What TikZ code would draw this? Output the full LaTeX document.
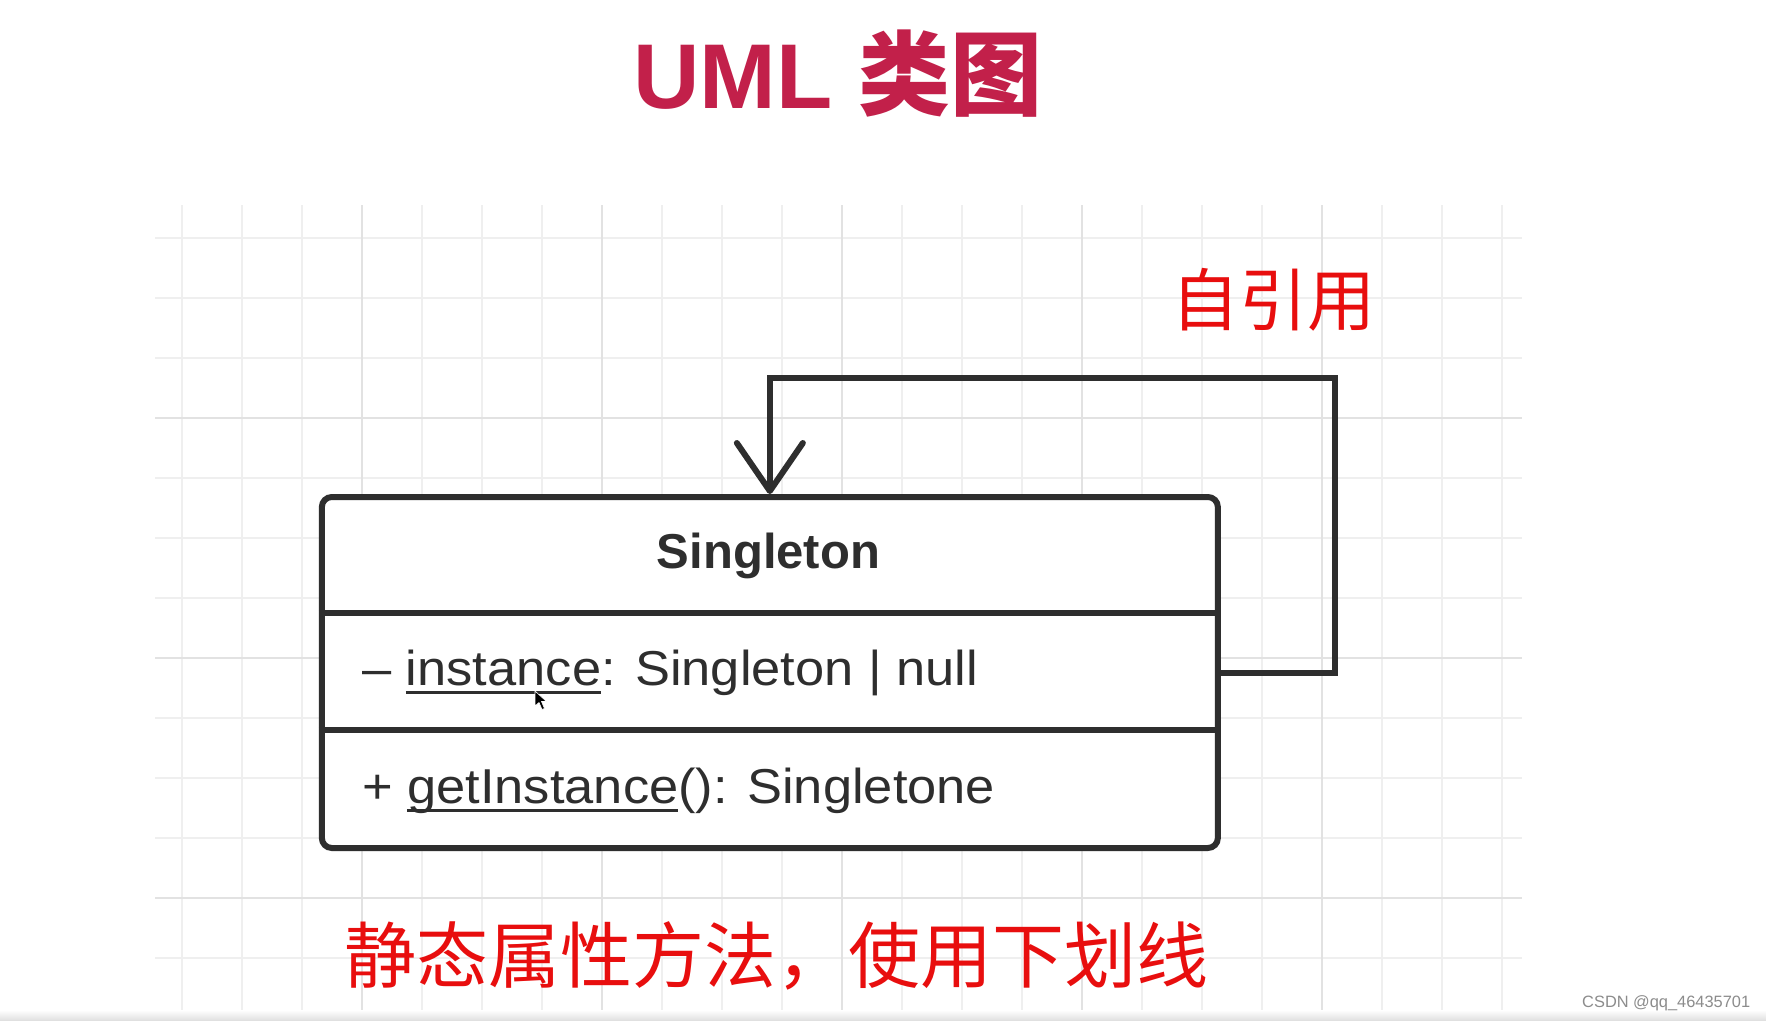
\documentclass[tikz,border=0pt]{standalone}
\usepackage{fontspec}
\setmainfont{Liberation Sans}
\newfontfamily\cjk{Noto Sans CJK SC}
\newfontfamily\rowfont[FakeStretch=1.07]{Liberation Sans}
\usetikzlibrary{arrows.meta,calc}
\definecolor{titlered}{RGB}{194,32,74}
\definecolor{notered}{RGB}{232,14,14}
\definecolor{ink}{RGB}{46,46,46}
\definecolor{gridminor}{RGB}{239,239,239}
\definecolor{gridmajor}{RGB}{226,226,226}
\definecolor{wmgray}{RGB}{140,140,140}
\newcommand\ulword[1]{\setbox0\hbox{#1}\rlap{\rule[-8.6pt]{\wd0}{3pt}}\box0}
\begin{document}
\begin{tikzpicture}[x=1pt,y=-1pt,
  minorline/.style={draw=gridminor, line width=1.6pt},
  majorline/.style={draw=gridmajor, line width=2.4pt},
  classbox/.style={draw=ink, line width=6pt, rounded corners=10pt, fill=white,
    minimum width=896pt, minimum height=351pt, inner sep=0pt},
  divider/.style={draw=ink, line width=6pt},
  classname/.style={anchor=base, inner sep=0pt, text=ink, font=\bfseries\fontsize{49}{56}\selectfont},
  rowtext/.style={anchor=base west, inner sep=0pt, text=ink, font=\rowfont\fontsize{49}{56}\selectfont},
  assoc/.style={draw=ink, line width=6pt, -{Straight Barb[length=48pt,width=66pt,round]}},
  redlabel/.style={inner sep=0pt, text=notered},
]
\useasboundingbox (0,0) rectangle (1766,1020);
\fill[white] (0,0) rectangle (1766,1020);
% grid
\foreach \x in {182,242,...,1502} \draw[minorline] (\x,205) -- (\x,1020);
\foreach \y in {238,298,...,1018} \draw[minorline] (155,\y) -- (1522,\y);
\foreach \x in {362,602,842,1082,1322} \draw[majorline] (\x,205) -- (\x,1020);
\foreach \y in {418,658,898} \draw[majorline] (155,\y) -- (1522,\y);
% bottom edge shade
\shade[top color=white, bottom color=black!12] (0,1010) rectangle (1766,1020);
% title
\node[anchor=base west, inner sep=0pt, text=titlered, font=\bfseries\fontsize{92}{100}\selectfont]
  (title) at (633,108) {UML {\cjk\bfseries 类图}};
% class box
\node[classbox] (cls) at (769.85,672.5) {};
\coordinate (d1) at (0,613);
\coordinate (d2) at (0,730);
\draw[divider] (cls.west |- d1) -- (cls.east |- d1);
\draw[divider] (cls.west |- d2) -- (cls.east |- d2);
\node[classname] (cname) at (768.5,568) {Singleton};
\node[rowtext] (attr) at (362,685) {–\ \ulword{instance}: Singleton | null};
\node[rowtext] (meth) at (362,803) {+\ \ulword{getInstance}(): Singletone};
% mouse cursor
\fill[black, draw=white, line width=0.6pt] (535,691) -- (535,706) -- (539,702.5) -- (542,709.5)
  -- (544.5,708.5) -- (541.5,701.5) -- (546.5,701.5) -- cycle;
% self association
\coordinate (loop) at (1335,378);
\draw[assoc] (cls.east) -| (loop) -| (cls.north);
% labels
\node[redlabel, font=\cjk\fontsize{68}{72}\selectfont] (selfref) at (1273,300) {自引用};
\node[redlabel, font=\cjk\fontsize{72}{76}\selectfont] (note) at (776,956) {静态属性方法，使用下划线};
\node[anchor=base west, inner sep=0pt, text=wmgray, font=\fontsize{16.4}{18}\selectfont]
  (wm) at (1582,1007) {CSDN @qq\_46435701};
\end{tikzpicture}
\end{document}
